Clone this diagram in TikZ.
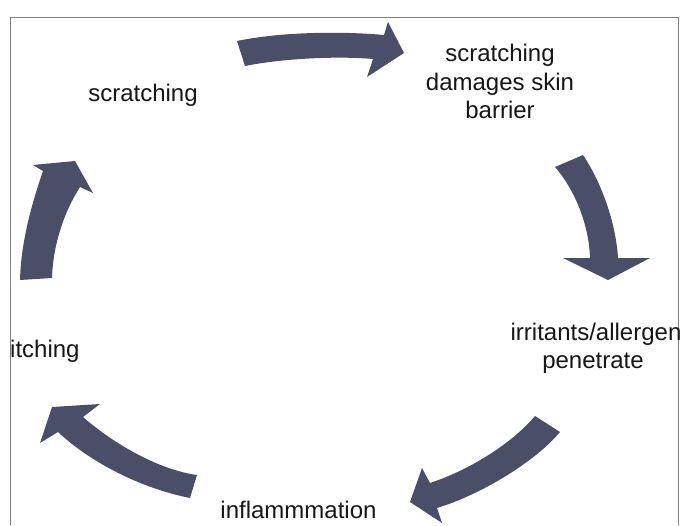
\documentclass[tikz,border=0pt]{standalone}
\usepackage{fontspec}
\setmainfont{Liberation Sans}
\definecolor{arrowc}{RGB}{74,78,102}
\definecolor{framec}{RGB}{128,128,128}
\definecolor{txtc}{RGB}{22,22,22}
\begin{document}
\begin{tikzpicture}[x=1pt,y=-1pt,
  cyc/.style={fill=arrowc},
  lbl/.style={font=\fontsize{24}{29}\selectfont, text=txtc, inner sep=0pt, anchor=base},
  frameline/.style={draw=framec, line width=1pt}]
\useasboundingbox (0,0) rectangle (683,525);
% frame
\draw[frameline] (10.5,525) -- (10.5,17) -- (678,17) -- (678,525);
% labels
\node[lbl] (scr) at (143,101) {scratching};
\node[lbl] (dam1) at (500,61.5) {scratching};
\node[lbl] (dam2) at (500,90) {damages skin};
\node[lbl] (dam3) at (500,118.5) {barrier};
\node[lbl] (irr1) at (596,340) {irritants/allergen};
\node[lbl] (irr2) at (593,368) {penetrate};
\node[lbl] (inf) at (298.5,518) {inflammmation};
\node[lbl, anchor=base west] (itc) at (10,357) {itching};
% top arrow
\fill[cyc] (237,41) .. controls (280,32) and (340,31) .. (384,35) -- (388,22) -- (404,53) -- (367,77) -- (373,59)
  .. controls (340,56) and (285,58) .. (245,66) -- cycle;
% right arrow
\fill[cyc] (583,155) .. controls (603,185) and (616,225) .. (618,258) -- (650,258) -- (608,280) -- (563,258) -- (590,258)
  .. controls (589,225) and (575,190) .. (555,167) -- cycle;
% bottom-right arrow
\fill[cyc] (535,416) -- (560,432) .. controls (535,462) and (480,495) .. (437,508) -- (442,523) -- (410,502) -- (422,468) -- (430,483)
  .. controls (475,468) and (515,440) .. (535,416) -- cycle;
% bottom-left arrow
\fill[cyc] (197,475) -- (190,498) .. controls (140,488) and (90,462) .. (58,432) -- (40,443) -- (52,407) -- (100,404) -- (83,417)
  .. controls (115,445) and (160,470) .. (197,475) -- cycle;
% left arrow
\fill[cyc] (20,280) -- (52,278) .. controls (53,245) and (64,212) .. (80,187) -- (93,193) -- (75,161) -- (33,165) -- (43,171)
  .. controls (33,200) and (21,240) .. (20,280) -- cycle;
\end{tikzpicture}
\end{document}
